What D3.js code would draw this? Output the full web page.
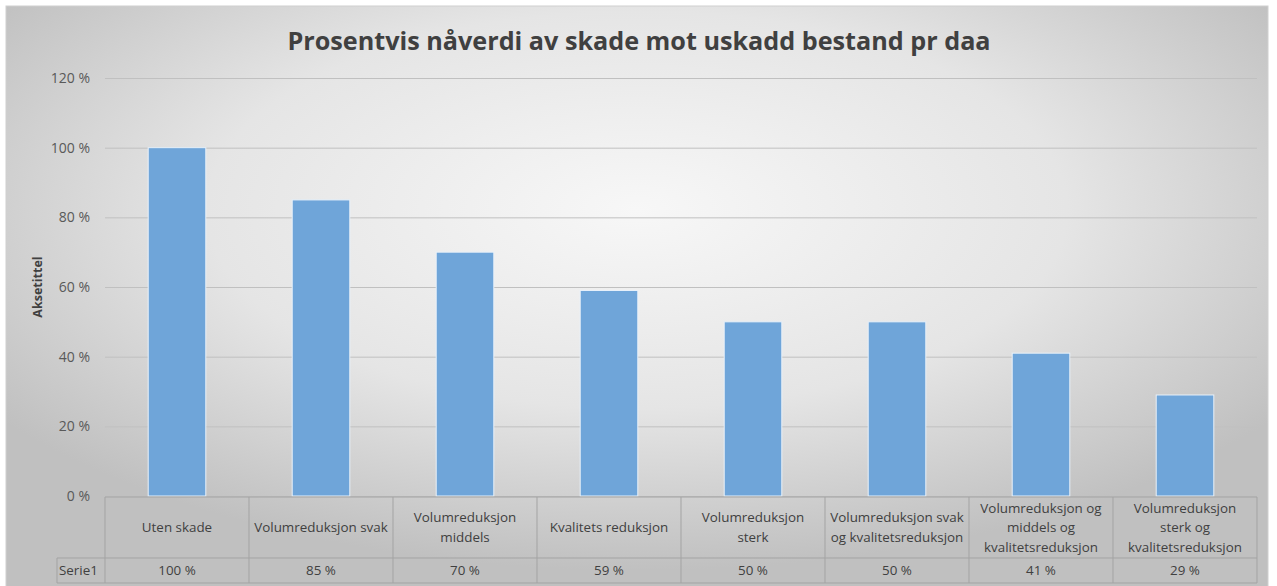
<!DOCTYPE html>
<html>
<head>
<meta charset="utf-8">
<script src="https://cdn.jsdelivr.net/npm/d3@7"></script>
<style>
  body { margin: 0; background: #fff; }
  text { font-family: "Open Sans", sans-serif; }
</style>
</head>
<body>
<div id="chart"></div>
<script>
// categories (line breaks as in the data table)
const categories = [
    ["Uten skade"],
    ["Volumreduksjon svak"],
    ["Volumreduksjon", "middels"],
    ["Kvalitets reduksjon"],
    ["Volumreduksjon", "sterk"],
    ["Volumreduksjon svak", "og kvalitetsreduksjon"],
    ["Volumreduksjon og", "middels og", "kvalitetsreduksjon"],
    ["Volumreduksjon", "sterk og", "kvalitetsreduksjon"]
];
const serie1 = [100, 85, 70, 59, 50, 50, 41, 29];
const yTicks = [0, 20, 40, 60, 80, 100, 120];
const seriesName = "Serie1";
const title = "Prosentvis nåverdi av skade mot uskadd bestand pr daa";
const yTitle = "Aksetittel";

const width = 1277, height = 586;
const plot = { left: 105, right: 1257, top: 78, bottom: 496 };
const rowHead = 61, rowVal = 25;
const tableFont = "13.4px";

let svg = d3.select("#chart")
    .append("svg")
    .attr("width", width)
    .attr("height", height);

let defs = svg.append("defs");
let grad = defs.append("radialGradient")
    .attr("id", "bg")
    .attr("cx", "50%").attr("cy", "35%")
    .attr("r", "62%");
grad.append("stop").attr("offset", "0%").attr("stop-color", "#f7f7f7");
grad.append("stop").attr("offset", "55%").attr("stop-color", "#e5e5e5");
grad.append("stop").attr("offset", "100%").attr("stop-color", "#c0c0c0");

svg.append("rect")
    .attr("x", 6).attr("y", 6)
    .attr("width", 1262).attr("height", 582)
    .attr("fill", "url(#bg)")
    .attr("stroke", "#d0d0d0");

let x = d3.scaleBand()
    .domain(d3.range(categories.length))
    .range([plot.left, plot.right])
    .paddingInner(0)
    .paddingOuter(0);

let y = d3.scaleLinear()
    .domain([0, 120])
    .range([plot.bottom, plot.top]);

// gridlines + tick labels
let yAxis = d3.axisLeft(y)
    .tickValues(yTicks)
    .tickSize(-(plot.right - plot.left))
    .tickPadding(15)
    .tickFormat(d => d + " %");

let gy = svg.append("g")
    .attr("transform", "translate(" + plot.left + ",0)")
    .call(yAxis);
gy.select(".domain").remove();
gy.selectAll(".tick line").attr("stroke", "#c0c0c0");
gy.selectAll(".tick text")
    .attr("fill", "#595959")
    .style("font-size", "14px");

// bars
const barW = x.bandwidth() / 2.5;
svg.append("g")
    .selectAll("rect")
    .data(serie1)
    .enter()
    .append("rect")
    .attr("x", (d, i) => x(i) + (x.bandwidth() - barW) / 2)
    .attr("y", d => y(d))
    .attr("width", barW)
    .attr("height", d => y(0) - y(d))
    .attr("fill", "#6fa5d9")
    .attr("stroke", "#e8f1fa")
    .attr("stroke-width", 1);

// data table
let table = svg.append("g")
    .attr("fill", "none")
    .attr("stroke", "#a3a3a3")
    .attr("stroke-width", 1);

const t0 = plot.bottom + 1, t1 = t0 + rowHead, t2 = t1 + rowVal;
const serLeft = 57;
table.append("line").attr("x1", plot.left).attr("x2", plot.right).attr("y1", t0).attr("y2", t0);
table.append("line").attr("x1", serLeft).attr("x2", plot.right).attr("y1", t1).attr("y2", t1);
table.append("line").attr("x1", serLeft).attr("x2", plot.right).attr("y1", t2).attr("y2", t2);
table.append("line").attr("x1", serLeft).attr("x2", serLeft).attr("y1", t1).attr("y2", t2);
table.selectAll(".vl")
    .data(d3.range(categories.length + 1))
    .enter()
    .append("line")
    .attr("x1", i => i < categories.length ? x(i) : plot.right)
    .attr("x2", i => i < categories.length ? x(i) : plot.right)
    .attr("y1", t0)
    .attr("y2", t2);

const lineH = 19.5;
let heads = svg.append("g")
    .selectAll("text")
    .data(categories)
    .enter()
    .append("text")
    .attr("text-anchor", "middle")
    .attr("fill", "#404040")
    .style("font-size", tableFont);
heads.each(function (lines, i) {
    let el = d3.select(this);
    let mid = (t0 + t1) / 2;
    lines.forEach((ln, k) => {
        el.append("tspan")
            .attr("x", x(i) + x.bandwidth() / 2)
            .attr("y", mid + (k - (lines.length - 1) / 2) * lineH)
            .attr("dy", "0.35em")
            .text(ln);
    });
});

svg.append("g")
    .selectAll("text")
    .data(serie1)
    .enter()
    .append("text")
    .attr("x", (d, i) => x(i) + x.bandwidth() / 2)
    .attr("y", (t1 + t2) / 2)
    .attr("dy", "0.35em")
    .attr("text-anchor", "middle")
    .attr("fill", "#404040")
    .style("font-size", tableFont)
    .text(d => d + " %");

svg.append("text")
    .attr("x", serLeft + 2)
    .attr("y", (t1 + t2) / 2)
    .attr("dy", "0.35em")
    .attr("fill", "#404040")
    .style("font-size", tableFont)
    .text(seriesName);

// titles
svg.append("text")
    .attr("x", 639)
    .attr("y", 50)
    .attr("text-anchor", "middle")
    .attr("fill", "#404040")
    .style("font-size", "25.2px")
    .style("font-weight", "bold")
    .text(title);

svg.append("text")
    .attr("transform", "translate(38," + (plot.top + plot.bottom) / 2 + ") rotate(-90)")
    .attr("dy", "0.35em")
    .attr("text-anchor", "middle")
    .attr("fill", "#404040")
    .style("font-size", "12.5px")
    .style("font-weight", "bold")
    .text(yTitle);
</script>
</body>
</html>
